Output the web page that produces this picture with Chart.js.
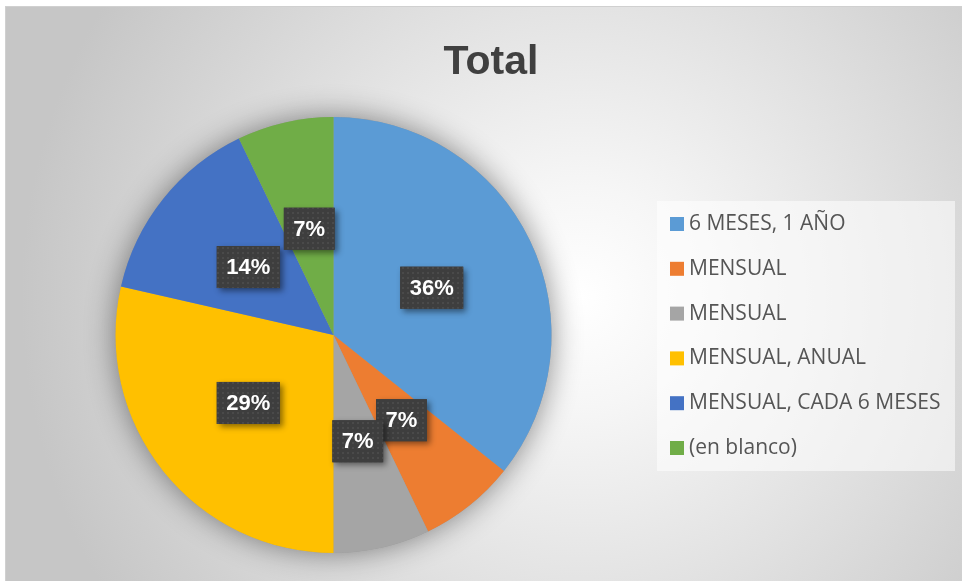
<!DOCTYPE html>
<html>
<head>
<meta charset="utf-8">
<script src="https://cdn.jsdelivr.net/npm/chart.js@4"></script>
<style>
  html, body { margin: 0; padding: 0; background: #fff; }
  #frame {
    position: absolute; left: 5px; top: 6px; width: 962px; height: 580px;
    border-top: 1px solid #d0d0d0; border-left: 1px solid #d0d0d0;
    background: radial-gradient(circle at 575px 290px, #ffffff 0px, #f6f6f6 110px, #e2e2e2 300px, #c6c6c6 560px);
  }
  #c { position: absolute; left: 0; top: 0; }
</style>
</head>
<body>
<div id="frame"></div>
<canvas id="c" width="962" height="581"></canvas>
<script>
const TITLE = 'Total';
const categories = ['6 MESES, 1 AÑO', 'MENSUAL', 'MENSUAL', 'MENSUAL, ANUAL', 'MENSUAL, CADA 6 MESES', '(en blanco)'];
const counts = [5, 1, 1, 4, 2, 1];
const colors = ['#5B9BD5', '#ED7D31', '#A5A5A5', '#FFC000', '#4472C4', '#70AD47'];

// dotted dark fill used by Excel-style data label boxes
function makeDots() {
  const p = document.createElement('canvas');
  p.width = 5; p.height = 5;
  const g = p.getContext('2d');
  g.fillStyle = '#3e3e3e';
  g.fillRect(0, 0, 5, 5);
  g.fillStyle = '#4a4a4a';
  g.fillRect(2, 2, 2, 2);
  return p;
}
const dots = makeDots();

const pieShadow = {
  id: 'pieShadow',
  beforeDatasetsDraw(chart) {
    const arc = chart.getDatasetMeta(0).data[0];
    if (!arc) return;
    const ctx = chart.ctx;
    ctx.save();
    ctx.shadowColor = 'rgba(0,0,0,0.45)';
    ctx.shadowBlur = 30;
    ctx.fillStyle = '#999';
    ctx.beginPath();
    ctx.arc(arc.x, arc.y, arc.outerRadius, 0, Math.PI * 2);
    ctx.fill();
    ctx.restore();
  }
};

const extras = {
  id: 'extras',
  afterDatasetsDraw(chart) {
    const ctx = chart.ctx;
    const meta = chart.getDatasetMeta(0);
    const total = counts.reduce((a, b) => a + b, 0);

    // data labels
    ctx.save();
    ctx.font = 'bold 22px "Liberation Sans", Arial, sans-serif';
    ctx.textAlign = 'center';
    ctx.textBaseline = 'middle';
    meta.data.forEach((el, i) => {
      const pos = el.tooltipPosition();
      const txt = Math.round(counts[i] / total * 100) + '%';
      const w = ctx.measureText(txt).width + 19;
      const h = 42;
      const x = pos.x - w / 2, y = pos.y - h / 2;
      ctx.save();
      ctx.shadowColor = 'rgba(0,0,0,0.45)';
      ctx.shadowBlur = 6;
      ctx.shadowOffsetX = 3;
      ctx.shadowOffsetY = 3;
      ctx.fillStyle = '#3e3e3e';
      ctx.fillRect(x, y, w, h);
      ctx.restore();
      ctx.fillStyle = ctx.createPattern(dots, 'repeat');
      ctx.fillRect(x, y, w, h);
      ctx.fillStyle = '#ffffff';
      ctx.fillText(txt, pos.x, pos.y + 1);
    });
    ctx.restore();

    // title
    ctx.save();
    ctx.font = 'bold 41px "Liberation Sans", Arial, sans-serif';
    ctx.fillStyle = '#404040';
    ctx.textAlign = 'center';
    ctx.textBaseline = 'alphabetic';
    ctx.fillText(TITLE, 491, 74);
    ctx.restore();

    // legend
    ctx.save();
    ctx.fillStyle = 'rgba(255,255,255,0.55)';
    ctx.fillRect(657, 201, 298, 270);
    ctx.font = '21px "Open Sans", sans-serif';
    ctx.textBaseline = 'middle';
    ctx.textAlign = 'left';
    categories.forEach((c, i) => {
      const cy = 224 + i * 44.8;
      ctx.fillStyle = colors[i];
      ctx.fillRect(670, cy - 7, 14, 14);
      ctx.fillStyle = '#555555';
      ctx.fillText(c, 689, cy);
    });
    ctx.restore();
  }
};

new Chart(document.getElementById('c'), {
  type: 'pie',
  data: {
    labels: categories,
    datasets: [{
      data: counts,
      backgroundColor: colors,
      borderWidth: 0,
      hoverOffset: 0
    }]
  },
  options: {
    responsive: false,
    animation: false,
    layout: { padding: { left: 115.5, right: 410.5, top: 117, bottom: 28 } },
    plugins: {
      legend: { display: false },
      title: { display: false },
      tooltip: { enabled: false }
    }
  },
  plugins: [pieShadow, extras]
});
</script>
</body>
</html>
